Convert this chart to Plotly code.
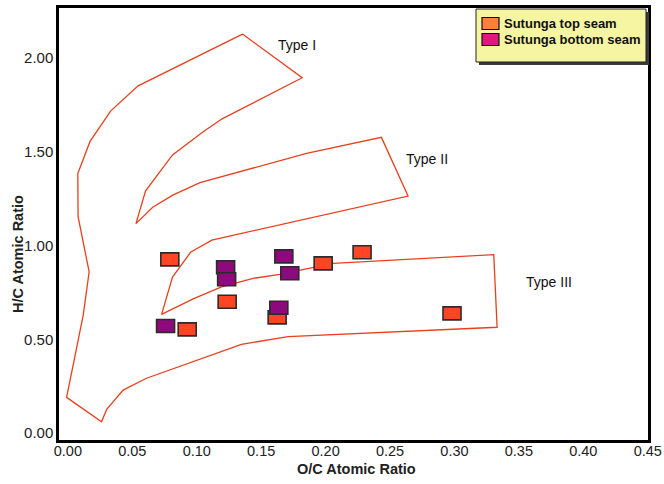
import plotly.graph_objects as go

# ---------------- data ----------------
# Kerogen-type field boundary (single closed outline with three lobes)
boundary_oc = [0.1355, 0.0545, 0.0331, 0.0171, 0.0077, 0.0079, 0.0165, 0.0119, -0.0010,
               0.0261, 0.0301, 0.0429, 0.0610, 0.0830, 0.1347, 0.1709, 0.3331, 0.3305,
               0.2058, 0.1645, 0.1438, 0.1192, 0.0972, 0.0727, 0.0812, 0.0952, 0.1117,
               0.2640, 0.2433, 0.1852, 0.1025, 0.0814, 0.0658, 0.0528, 0.0603, 0.0812,
               0.1050, 0.1197, 0.1818, 0.1355]
boundary_hc = [2.128, 1.852, 1.717, 1.554, 1.384, 1.154, 0.860, 0.629, 0.190,
               0.060, 0.126, 0.229, 0.292, 0.345, 0.473, 0.514, 0.564, 0.951,
               0.905, 0.846, 0.825, 0.780, 0.715, 0.633, 0.832, 0.964, 1.029,
               1.264, 1.577, 1.492, 1.335, 1.269, 1.204, 1.117, 1.292, 1.483,
               1.607, 1.676, 1.895, 2.128]

type_labels = ["Type I", "Type II", "Type III"]
type_label_oc = [0.1777, 0.2785, 0.3730]
type_label_hc = [2.069, 1.461, 0.805]

series_names = ["Sutunga top seam", "Sutunga bottom seam"]
top_oc = [0.0791, 0.0926, 0.1236, 0.1624, 0.1981, 0.2283, 0.2981]
top_hc = [0.926, 0.553, 0.700, 0.617, 0.905, 0.964, 0.638]
bottom_oc = [0.0758, 0.1224, 0.1232, 0.1676, 0.1722, 0.1637]
bottom_hc = [0.571, 0.884, 0.820, 0.942, 0.852, 0.668]

x_ticks = [0.00, 0.05, 0.10, 0.15, 0.20, 0.25, 0.30, 0.35, 0.40, 0.45]
y_ticks = [0.00, 0.50, 1.00, 1.50, 2.00]

# ---------------- styles ----------------
FONT = "Liberation Sans, Arial, sans-serif"
W, H = 664, 484
ML, MR, MT, MB = 59, 16, 8, 44
PW, PH = W - ML - MR, H - MT - MB

marker_fill = ["#FF4524", "#8E0A7C"]
legend_fill = ["#FF7F3F", "#E3157F"]
line_col = "#E8401C"


def px_x(px):
    return (px - ML) / PW


def px_y(py):
    return (H - MB - py) / PH


fig = go.Figure()

fig.add_trace(go.Scatter(x=boundary_oc, y=boundary_hc, mode="lines",
                         line=dict(color=line_col, width=1.3),
                         showlegend=False, hoverinfo="skip"))

shapes = []
for (xs, ys, col) in [(top_oc, top_hc, marker_fill[0]), (bottom_oc, bottom_hc, marker_fill[1])]:
    for xv, yv in zip(xs, ys):
        shapes.append(dict(type="rect", xref="x", yref="y",
                           xsizemode="pixel", ysizemode="pixel",
                           xanchor=xv, yanchor=yv,
                           x0=-9, x1=9, y0=-6.5, y1=6.5,
                           fillcolor=col, line=dict(color="#2b2b2b", width=1.6),
                           layer="above"))

# manual legend box with shadow
shapes.append(dict(type="rect", xref="paper", yref="paper",
                   x0=px_x(479), x1=px_x(649), y0=px_y(65), y1=px_y(12),
                   fillcolor="#3a3a3a", line=dict(width=0), layer="above"))
shapes.append(dict(type="rect", xref="paper", yref="paper",
                   x0=px_x(476), x1=px_x(646), y0=px_y(62), y1=px_y(9),
                   fillcolor="#F6F6A2", line=dict(color="#222", width=1), layer="above"))
annotations = []
for i, name in enumerate(series_names):
    cy = 23.5 + 16 * i
    shapes.append(dict(type="rect", xref="paper", yref="paper",
                       x0=px_x(482), x1=px_x(499), y0=px_y(cy + 6), y1=px_y(cy - 6),
                       fillcolor=legend_fill[i], line=dict(color="#111", width=1.2),
                       layer="above"))
    annotations.append(dict(xref="paper", yref="paper", x=px_x(502), y=px_y(cy),
                            text="<b>%s</b>" % name, showarrow=False,
                            xanchor="left", yanchor="middle",
                            font=dict(family=FONT, size=13, color="#111")))

for t, xv, yv in zip(type_labels, type_label_oc, type_label_hc):
    annotations.append(dict(x=xv, y=yv, xref="x", yref="y", text=t, showarrow=False,
                            font=dict(family=FONT, size=14, color="#111")))

# axis titles
annotations.append(dict(xref="paper", yref="paper", x=px_x(356), y=px_y(469),
                        text="<b>O/C Atomic Ratio</b>", showarrow=False,
                        xanchor="center", yanchor="middle",
                        font=dict(family=FONT, size=14.5, color="#222")))
annotations.append(dict(xref="paper", yref="paper", x=px_x(18), y=px_y(254),
                        text="<b>H/C Atomic Ratio</b>", showarrow=False, textangle=-90,
                        xanchor="center", yanchor="middle",
                        font=dict(family=FONT, size=14.5, color="#222")))

fig.update_layout(
    width=W, height=H,
    margin=dict(l=ML, r=MR, t=MT, b=MB, autoexpand=False),
    paper_bgcolor="white", plot_bgcolor="white",
    showlegend=False,
    shapes=shapes, annotations=annotations,
    font=dict(family=FONT, size=15, color="#222"),
    xaxis=dict(range=[-0.0069, 0.4502], tickvals=x_ticks,
               ticktext=["%.2f" % v for v in x_ticks],
               tickfont=dict(size=14.5), ticklabelstandoff=-4, automargin=False,
               showgrid=False, zeroline=False, showline=True, mirror=True,
               linecolor="black", linewidth=2.5, ticks=""),
    yaxis=dict(range=[-0.0373, 2.267], tickvals=y_ticks,
               ticktext=["%.2f" % v for v in y_ticks],
               tickfont=dict(size=15), automargin=False,
               showgrid=False, zeroline=False, showline=True, mirror=True,
               linecolor="black", linewidth=2.5, ticks=""),
)

fig.write_html("out.html")
